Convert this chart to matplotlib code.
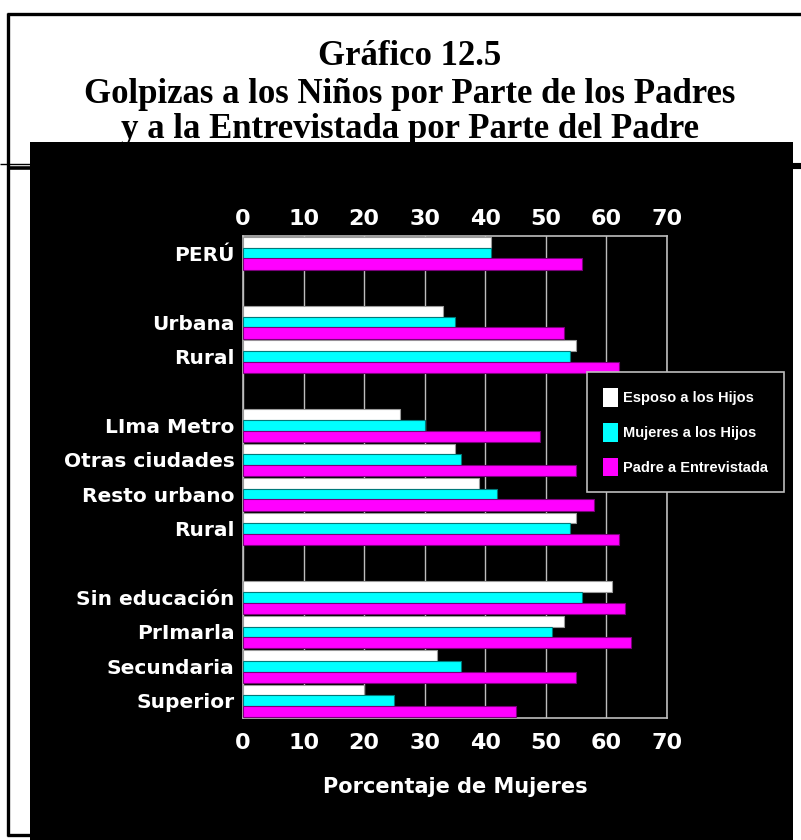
import matplotlib
matplotlib.use("Agg")
import matplotlib.pyplot as plt
from matplotlib.patches import Rectangle, Patch
from matplotlib.lines import Line2D
import numpy as np

# ---- data -------------------------------------------------------------
categories = ["PERÚ", "", "Urbana", "Rural", "", "LIma Metro", "Otras ciudades",
              "Resto urbano", "Rural", "", "Sin educación", "PrImarla",
              "Secundaria", "Superior"]
esposo_hijos = [41, None, 33, 55, None, 26, 35, 39, 55, None, 61, 53, 32, 20]
mujeres_hijos = [41, None, 35, 54, None, 30, 36, 42, 54, None, 56, 51, 36, 25]
padre_entrevistada = [56, None, 53, 62, None, 49, 55, 58, 62, None, 63, 64, 55, 45]

series_names = ["Esposo a los Hijos", "Mujeres a los Hijos", "Padre a Entrevistada"]
series_colors = ["#FFFFFF", "#00FFFF", "#FF00FF"]
series_edges = ["#9a9a9a", "#007a7a", "#7a007a"]
x_ticks = [0, 10, 20, 30, 40, 50, 60, 70]

title_lines = ["Gráfico 12.5",
               "Golpizas a los Niños por Parte de los Padres",
               "y a la Entrevistada por Parte del Padre"]
x_label = "Porcentaje de Mujeres"

# ---- figure -----------------------------------------------------------
W, H = 801, 840
fig = plt.figure(figsize=(W / 100, H / 100), dpi=100)
fig.patch.set_facecolor("white")


def fx(px):
    return px / W


def fy(py):
    return 1 - py / H


# page frame
frame_kw = dict(color="black", transform=fig.transFigure, zorder=1,
                solid_capstyle="butt")
fig.add_artist(Line2D([fx(7), 1.0], [fy(13.5), fy(13.5)], lw=2.4, **frame_kw))
fig.add_artist(Line2D([fx(8), fx(8)], [fy(12.5), fy(836)], lw=2.4, **frame_kw))
fig.add_artist(Line2D([fx(7), fx(32)], [fy(835), fy(835)], lw=2.4, **frame_kw))
fig.add_artist(Line2D([0.0, fx(30)], [fy(163.5), fy(163.5)], lw=1.0, **frame_kw))
fig.add_artist(Line2D([fx(8), fx(31)], [fy(167.5), fy(167.5)], lw=2.6, **frame_kw))
fig.add_artist(Line2D([fx(792), 1.0], [fy(166), fy(166)], lw=4.4, **frame_kw))

# title (partly covered by the dark panel below it)
for text, base in zip(title_lines, [65, 103, 138]):
    fig.text(fx(410), fy(base), text, ha="center", va="baseline",
             family="Liberation Serif", weight="bold", fontsize=25,
             color="black", zorder=1)

# dark chart panel
fig.add_artist(Rectangle((fx(30), 0), fx(793) - fx(30), fy(142),
                         transform=fig.transFigure, facecolor="black",
                         edgecolor="none", zorder=2))

# ---- axes -------------------------------------------------------------
ax = fig.add_axes([fx(243), fy(718), fx(667) - fx(243), (718 - 236) / H])
ax.set_zorder(3)
ax.set_facecolor("black")

y = np.arange(len(categories))
offsets = [-0.31, 0.0, 0.315]
heights = [0.31, 0.31, 0.33]
all_series = [esposo_hijos, mujeres_hijos, padre_entrevistada]
for vals, off, h, col, ec in zip(all_series, offsets, heights,
                                  series_colors, series_edges):
    pos = [yy + off for yy, v in zip(y, vals) if v is not None]
    vv = [v for v in vals if v is not None]
    ax.barh(pos, vv, height=h, color=col, edgecolor=ec, linewidth=0.8,
            zorder=3)

ax.set_xlim(0, 70)
ax.set_ylim(len(categories) - 0.5, -0.5)
ax.set_xticks(x_ticks)
ax.xaxis.grid(True, color="#bdbdbd", lw=1.0, zorder=1)
ax.set_axisbelow(True)
for sp in ax.spines.values():
    sp.set_color("#bdbdbd")
    sp.set_linewidth(1.2)

tick_font = dict(family="DejaVu Sans", weight="bold", size=16, color="white")
ax.set_xticklabels([str(t) for t in x_ticks], fontdict=tick_font)
ax.tick_params(axis="x", length=0, pad=11)
ax.set_yticks(y)
ax.set_yticklabels(categories, family="DejaVu Sans", weight="bold",
                   size=14.5, color="white")
ax.tick_params(axis="y", length=0, pad=6)

top = ax.secondary_xaxis("top")
top.set_xticks(x_ticks)
top.set_xticklabels([str(t) for t in x_ticks], fontdict=tick_font)
top.tick_params(axis="x", length=0, pad=5)
top.spines["top"].set_visible(False)

ax.set_xlabel(x_label, family="DejaVu Sans", weight="bold", size=15,
              color="white", labelpad=17)

handles = [Patch(facecolor=c, edgecolor="none") for c in series_colors]
leg = ax.legend(handles, series_names, loc="upper left",
                bbox_to_anchor=(fx(587), fy(372)),
                bbox_transform=fig.transFigure,
                prop=dict(family="Liberation Sans", weight="bold", size=10.5),
                labelcolor="white", frameon=True, fancybox=False,
                facecolor="black", edgecolor="#bdbdbd", framealpha=1,
                handlelength=1.03, handleheight=1.6, handletextpad=0.35,
                labelspacing=1.1, borderpad=1.1, borderaxespad=0)
leg.get_frame().set_linewidth(1.2)

fig.savefig("out.png", dpi=100, facecolor=fig.get_facecolor())
